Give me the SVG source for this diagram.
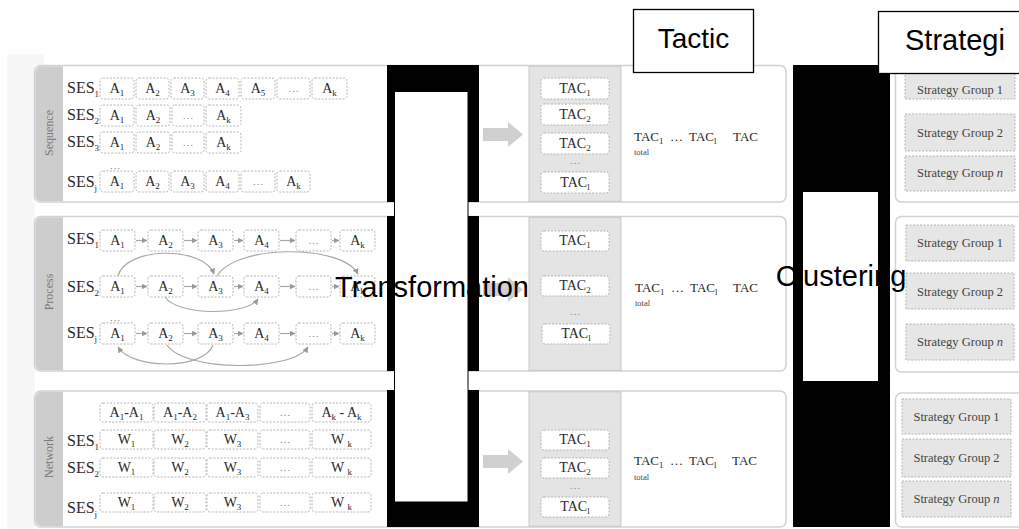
<svg xmlns="http://www.w3.org/2000/svg" width="1019" height="529" viewBox="0 0 1019 529">
  <style>
    .panel { fill: #fff; stroke: #d2d2d2; stroke-width: 1.5; }
    .strip { fill: #cdcdcd; }
    .cap { font-family: "Liberation Serif", serif; font-size: 12px; fill: #7a7a7a; text-anchor: middle; }
    .box { fill: #fff; stroke: #b4b4b4; stroke-width: 1; stroke-dasharray: 2 1.5; }
    .gbox { fill: #e6e6e6; stroke: #b4b4b4; stroke-width: 1; stroke-dasharray: 2 1.5; }
    .lbl { font-family: "Liberation Serif", serif; font-size: 14px; fill: #2a2a2a; text-anchor: middle; }
    .dots { font-family: "Liberation Serif", serif; font-size: 11px; fill: #888; text-anchor: middle; }
    .ses { font-family: "Liberation Serif", serif; font-size: 16px; fill: #2a2a2a; }
    .sb { font-size: 9px; }
    .tl { font-family: "Liberation Serif", serif; font-size: 13px; fill: #2a2a2a; }
    .tot { font-family: "Liberation Serif", serif; font-size: 8.5px; fill: #444; }
    .sg { font-family: "Liberation Serif", serif; font-size: 12.5px; fill: #444; text-anchor: middle; }
    .col { fill: #e4e4e4; stroke: #c8c8c8; stroke-width: 1; }
    .big { fill: #d0d0d0; }
    .flow { fill: none; stroke: #a8a8a8; stroke-width: 1.2; marker-end: url(#ah); }
    .redact { fill: #000; }
    .head { font-family: "Liberation Sans", Arial, sans-serif; fill: #000; }
    .hbox { fill: #fff; stroke: #000; stroke-width: 1.3; }
  </style>
  <defs>
    <marker id="ah" viewBox="0 0 6 6" refX="5.5" refY="3" markerWidth="6" markerHeight="6" orient="auto" markerUnits="userSpaceOnUse">
      <path d="M0,0 L6,3 L0,6 z" fill="#999"/>
    </marker>
  </defs>

  <!-- faint backdrop on the left margin -->
  <path d="M7,54 H44 V65 H35 V529 H7 Z" fill="#f7f7f7"/>

  <!-- row panels with rotated side captions -->
  <g id="panels">
    <rect class="panel" x="34.5" y="65.5" width="751.5" height="136.5" rx="6"/>
    <path class="strip" d="M63,66.3 V201.3 H41 A6,6 0 0 1 35.3,195.3 V72.3 A6,6 0 0 1 41,66.3 Z"/>
    <text class="cap" transform="translate(53,133) rotate(-90)">Sequence</text>

    <rect class="panel" x="34.5" y="216.5" width="751.5" height="154.5" rx="6"/>
    <path class="strip" d="M63,217.3 V370.3 H41 A6,6 0 0 1 35.3,364.3 V223.3 A6,6 0 0 1 41,217.3 Z"/>
    <text class="cap" transform="translate(53,292) rotate(-90)">Process</text>

    <rect class="panel" x="34.5" y="391" width="751.5" height="136" rx="6"/>
    <path class="strip" d="M63,391.8 V526.2 H41 A6,6 0 0 1 35.3,520.2 V397.8 A6,6 0 0 1 41,391.8 Z"/>
    <text class="cap" transform="translate(53,457) rotate(-90)">Network</text>

    <!-- tactic columns -->
    <rect class="col" x="529" y="66.3" width="92" height="135"/>
    <rect class="col" x="529" y="217.3" width="92" height="153"/>
    <rect class="col" x="529" y="391.8" width="92" height="134.5"/>

    <!-- strategy panels -->
    <rect class="panel" x="895.5" y="65.5" width="130" height="136.5" rx="6"/>
    <rect class="panel" x="895.5" y="216.5" width="130" height="155.5" rx="6"/>
    <rect class="panel" x="895.5" y="393" width="130" height="134" rx="6"/>
  </g>

  <!-- sequence rows -->
  <g id="sequence">
    <text class="ses" x="67" y="93">SES<tspan class="sb" dy="4">1</tspan></text>
    <rect class="box" x="100" y="78" width="34" height="21" rx="3"/><text class="lbl" x="117" y="93">A<tspan class="sb" dy="3">1</tspan></text>
    <rect class="box" x="136" y="78" width="33" height="21" rx="3"/><text class="lbl" x="152.5" y="93">A<tspan class="sb" dy="3">2</tspan></text>
    <rect class="box" x="171" y="78" width="33" height="21" rx="3"/><text class="lbl" x="187.5" y="93">A<tspan class="sb" dy="3">3</tspan></text>
    <rect class="box" x="206" y="78" width="33" height="21" rx="3"/><text class="lbl" x="222.5" y="93">A<tspan class="sb" dy="3">4</tspan></text>
    <rect class="box" x="241" y="78" width="34" height="21" rx="3"/><text class="lbl" x="258" y="93">A<tspan class="sb" dy="3">5</tspan></text>
    <rect class="box" x="277" y="78" width="33" height="21" rx="3"/><text class="dots" x="293.5" y="92">…</text>
    <rect class="box" x="312" y="78" width="35" height="21" rx="3"/><text class="lbl" x="329.5" y="93">A<tspan class="sb" dy="3">k</tspan></text>

    <text class="ses" x="67" y="120">SES<tspan class="sb" dy="4">2</tspan></text>
    <rect class="box" x="100" y="105" width="34" height="21" rx="3"/><text class="lbl" x="117" y="120">A<tspan class="sb" dy="3">1</tspan></text>
    <rect class="box" x="136" y="105" width="34" height="21" rx="3"/><text class="lbl" x="153" y="120">A<tspan class="sb" dy="3">2</tspan></text>
    <rect class="box" x="172" y="105" width="32" height="21" rx="3"/><text class="dots" x="188" y="119">…</text>
    <rect class="box" x="206" y="105" width="35" height="21" rx="3"/><text class="lbl" x="223.5" y="120">A<tspan class="sb" dy="3">k</tspan></text>

    <text class="ses" x="67" y="147">SES<tspan class="sb" dy="4">3</tspan></text>
    <rect class="box" x="100" y="132" width="34" height="21" rx="3"/><text class="lbl" x="117" y="147">A<tspan class="sb" dy="3">1</tspan></text>
    <rect class="box" x="136" y="132" width="34" height="21" rx="3"/><text class="lbl" x="153" y="147">A<tspan class="sb" dy="3">2</tspan></text>
    <rect class="box" x="172" y="132" width="32" height="21" rx="3"/><text class="dots" x="188" y="146">…</text>
    <rect class="box" x="206" y="132" width="35" height="21" rx="3"/><text class="lbl" x="223.5" y="147">A<tspan class="sb" dy="3">k</tspan></text>

    <text class="dots" x="115" y="169">…</text>

    <text class="ses" x="67" y="187">SES<tspan class="sb" dy="4">j</tspan></text>
    <rect class="box" x="100" y="171" width="34" height="21" rx="3"/><text class="lbl" x="117" y="186">A<tspan class="sb" dy="3">1</tspan></text>
    <rect class="box" x="136" y="171" width="33" height="21" rx="3"/><text class="lbl" x="152.5" y="186">A<tspan class="sb" dy="3">2</tspan></text>
    <rect class="box" x="171" y="171" width="33" height="21" rx="3"/><text class="lbl" x="187.5" y="186">A<tspan class="sb" dy="3">3</tspan></text>
    <rect class="box" x="206" y="171" width="33" height="21" rx="3"/><text class="lbl" x="222.5" y="186">A<tspan class="sb" dy="3">4</tspan></text>
    <rect class="box" x="241" y="171" width="34" height="21" rx="3"/><text class="dots" x="258" y="185">…</text>
    <rect class="box" x="277" y="171" width="33" height="21" rx="3"/><text class="lbl" x="293.5" y="186">A<tspan class="sb" dy="3">k</tspan></text>
  </g>

  <!-- process rows -->
  <g id="process">
    <text class="ses" x="67" y="244">SES<tspan class="sb" dy="4">1</tspan></text>
    <rect class="box" x="100" y="230" width="35" height="21" rx="3"/><text class="lbl" x="117.5" y="245">A<tspan class="sb" dy="3">1</tspan></text>
    <rect class="box" x="148" y="230" width="35" height="21" rx="3"/><text class="lbl" x="165.5" y="245">A<tspan class="sb" dy="3">2</tspan></text>
    <rect class="box" x="198" y="230" width="35" height="21" rx="3"/><text class="lbl" x="215.5" y="245">A<tspan class="sb" dy="3">3</tspan></text>
    <rect class="box" x="244" y="230" width="35" height="21" rx="3"/><text class="lbl" x="261.5" y="245">A<tspan class="sb" dy="3">4</tspan></text>
    <rect class="box" x="296" y="230" width="35" height="21" rx="3"/><text class="dots" x="313.5" y="244">…</text>
    <rect class="box" x="340" y="230" width="35" height="21" rx="3"/><text class="lbl" x="357.5" y="245">A<tspan class="sb" dy="3">k</tspan></text>

    <text class="ses" x="67" y="292">SES<tspan class="sb" dy="4">2</tspan></text>
    <rect class="box" x="100" y="276" width="35" height="21" rx="3"/><text class="lbl" x="117.5" y="291">A<tspan class="sb" dy="3">1</tspan></text>
    <rect class="box" x="148" y="276" width="35" height="21" rx="3"/><text class="lbl" x="165.5" y="291">A<tspan class="sb" dy="3">2</tspan></text>
    <rect class="box" x="198" y="276" width="35" height="21" rx="3"/><text class="lbl" x="215.5" y="291">A<tspan class="sb" dy="3">3</tspan></text>
    <rect class="box" x="244" y="276" width="35" height="21" rx="3"/><text class="lbl" x="261.5" y="291">A<tspan class="sb" dy="3">4</tspan></text>
    <rect class="box" x="296" y="276" width="35" height="21" rx="3"/><text class="dots" x="313.5" y="290">…</text>
    <rect class="box" x="340" y="276" width="35" height="21" rx="3"/><text class="lbl" x="357.5" y="291">A<tspan class="sb" dy="3">k</tspan></text>

    <text class="dots" x="115" y="321">…</text>

    <text class="ses" x="67" y="338">SES<tspan class="sb" dy="4">j</tspan></text>
    <rect class="box" x="100" y="323" width="35" height="21" rx="3"/><text class="lbl" x="117.5" y="338">A<tspan class="sb" dy="3">1</tspan></text>
    <rect class="box" x="148" y="323" width="35" height="21" rx="3"/><text class="lbl" x="165.5" y="338">A<tspan class="sb" dy="3">2</tspan></text>
    <rect class="box" x="198" y="323" width="35" height="21" rx="3"/><text class="lbl" x="215.5" y="338">A<tspan class="sb" dy="3">3</tspan></text>
    <rect class="box" x="244" y="323" width="35" height="21" rx="3"/><text class="lbl" x="261.5" y="338">A<tspan class="sb" dy="3">4</tspan></text>
    <rect class="box" x="296" y="323" width="35" height="21" rx="3"/><text class="dots" x="313.5" y="337">…</text>
    <rect class="box" x="340" y="323" width="35" height="21" rx="3"/><text class="lbl" x="357.5" y="338">A<tspan class="sb" dy="3">k</tspan></text>
  </g>

  <!-- network rows -->
  <g id="network">
    <rect class="box" x="100" y="403" width="53" height="19" rx="3"/><text class="lbl" x="126.5" y="417">A<tspan class="sb" dy="3">1</tspan><tspan dy="-3">-A</tspan><tspan class="sb" dy="3">1</tspan></text>
    <rect class="box" x="154" y="403" width="52" height="19" rx="3"/><text class="lbl" x="180" y="417">A<tspan class="sb" dy="3">1</tspan><tspan dy="-3">-A</tspan><tspan class="sb" dy="3">2</tspan></text>
    <rect class="box" x="207" y="403" width="51" height="19" rx="3"/><text class="lbl" x="232.5" y="417">A<tspan class="sb" dy="3">1</tspan><tspan dy="-3">-A</tspan><tspan class="sb" dy="3">3</tspan></text>
    <rect class="box" x="260" y="403" width="50" height="19" rx="3"/><text class="dots" x="285" y="416">…</text>
    <rect class="box" x="312" y="403" width="59" height="19" rx="3"/><text class="lbl" x="341.5" y="417">A<tspan class="sb" dy="3">k</tspan><tspan dy="-3"> - A</tspan><tspan class="sb" dy="3">k</tspan></text>

    <text class="ses" x="67" y="446">SES<tspan class="sb" dy="4">1</tspan></text>
    <rect class="box" x="100" y="430" width="53" height="19" rx="3"/><text class="lbl" x="126.5" y="444">W<tspan class="sb" dy="3">1</tspan></text>
    <rect class="box" x="154" y="430" width="52" height="19" rx="3"/><text class="lbl" x="180" y="444">W<tspan class="sb" dy="3">2</tspan></text>
    <rect class="box" x="207" y="430" width="51" height="19" rx="3"/><text class="lbl" x="232.5" y="444">W<tspan class="sb" dy="3">3</tspan></text>
    <rect class="box" x="260" y="430" width="50" height="19" rx="3"/><text class="dots" x="285" y="443">…</text>
    <rect class="box" x="312" y="430" width="59" height="19" rx="3"/><text class="lbl" x="341.5" y="444">W <tspan class="sb" dy="3">k</tspan></text>

    <text class="ses" x="67" y="473">SES<tspan class="sb" dy="4">2</tspan></text>
    <rect class="box" x="100" y="458" width="53" height="19" rx="3"/><text class="lbl" x="126.5" y="472">W<tspan class="sb" dy="3">1</tspan></text>
    <rect class="box" x="154" y="458" width="52" height="19" rx="3"/><text class="lbl" x="180" y="472">W<tspan class="sb" dy="3">2</tspan></text>
    <rect class="box" x="207" y="458" width="51" height="19" rx="3"/><text class="lbl" x="232.5" y="472">W<tspan class="sb" dy="3">3</tspan></text>
    <rect class="box" x="260" y="458" width="50" height="19" rx="3"/><text class="dots" x="285" y="471">…</text>
    <rect class="box" x="312" y="458" width="59" height="19" rx="3"/><text class="lbl" x="341.5" y="472">W <tspan class="sb" dy="3">k</tspan></text>

    <text class="ses" x="67" y="513">SES<tspan class="sb" dy="4">j</tspan></text>
    <rect class="box" x="100" y="493" width="53" height="19" rx="3"/><text class="lbl" x="126.5" y="507">W<tspan class="sb" dy="3">1</tspan></text>
    <rect class="box" x="154" y="493" width="52" height="19" rx="3"/><text class="lbl" x="180" y="507">W<tspan class="sb" dy="3">2</tspan></text>
    <rect class="box" x="207" y="493" width="51" height="19" rx="3"/><text class="lbl" x="232.5" y="507">W<tspan class="sb" dy="3">3</tspan></text>
    <rect class="box" x="260" y="493" width="50" height="19" rx="3"/><text class="dots" x="285" y="506">…</text>
    <rect class="box" x="312" y="493" width="59" height="19" rx="3"/><text class="lbl" x="341.5" y="507">W <tspan class="sb" dy="3">k</tspan></text>
  </g>

  <!-- tactic columns: per-session tactics and totals -->
  <g id="tactics">
    <rect class="box" x="541" y="78" width="68" height="21" rx="3"/><text class="lbl" x="575" y="93">TAC<tspan class="sb" dy="3">1</tspan></text>
    <rect class="box" x="541" y="104" width="68" height="21" rx="3"/><text class="lbl" x="575" y="119">TAC<tspan class="sb" dy="3">2</tspan></text>
    <rect class="box" x="541" y="133" width="68" height="21" rx="3"/><text class="lbl" x="575" y="148">TAC<tspan class="sb" dy="3">2</tspan></text>
    <text class="dots" x="575" y="164">…</text>
    <rect class="box" x="541" y="172" width="68" height="21" rx="3"/><text class="lbl" x="575" y="187">TAC<tspan class="sb" dy="3">l</tspan></text>
    <text class="tl" x="634" y="141">TAC<tspan class="sb" dy="3">1</tspan></text>
    <text class="tl" x="670" y="141">…</text>
    <text class="tl" x="689" y="141">TAC<tspan class="sb" dy="3">l</tspan></text>
    <text class="tl" x="733" y="141">TAC</text>
    <text class="tot" x="634" y="155">total</text>

    <rect class="box" x="541" y="231" width="68" height="20" rx="3"/><text class="lbl" x="575" y="245">TAC<tspan class="sb" dy="3">1</tspan></text>
    <rect class="box" x="541" y="276" width="68" height="20" rx="3"/><text class="lbl" x="575" y="290">TAC<tspan class="sb" dy="3">2</tspan></text>
    <text class="dots" x="575" y="315">…</text>
    <rect class="box" x="542" y="324" width="68" height="20" rx="3"/><text class="lbl" x="576" y="338">TAC<tspan class="sb" dy="3">l</tspan></text>
    <text class="tl" x="635" y="292">TAC<tspan class="sb" dy="3">1</tspan></text>
    <text class="tl" x="671" y="292">…</text>
    <text class="tl" x="690" y="292">TAC<tspan class="sb" dy="3">l</tspan></text>
    <text class="tl" x="733" y="292">TAC</text>
    <text class="tot" x="635" y="306">total</text>

    <rect class="box" x="541" y="430" width="68" height="20" rx="3"/><text class="lbl" x="575" y="444">TAC<tspan class="sb" dy="3">1</tspan></text>
    <rect class="box" x="541" y="458" width="68" height="20" rx="3"/><text class="lbl" x="575" y="472">TAC<tspan class="sb" dy="3">2</tspan></text>
    <text class="dots" x="575" y="489">…</text>
    <rect class="box" x="541" y="497" width="68" height="20" rx="3"/><text class="lbl" x="575" y="511">TAC<tspan class="sb" dy="3">l</tspan></text>
    <text class="tl" x="634" y="465">TAC<tspan class="sb" dy="3">1</tspan></text>
    <text class="tl" x="670" y="465">…</text>
    <text class="tl" x="689" y="465">TAC<tspan class="sb" dy="3">l</tspan></text>
    <text class="tl" x="732" y="465">TAC</text>
    <text class="tot" x="634" y="480">total</text>
  </g>

  <!-- strategy groups -->
  <g id="strategies">
    <rect class="gbox" x="905" y="68" width="110" height="31"/><text class="sg" x="960" y="94">Strategy Group 1</text>
    <rect class="gbox" x="905" y="114" width="110" height="37"/><text class="sg" x="960" y="137">Strategy Group 2</text>
    <rect class="gbox" x="905" y="156" width="110" height="35"/><text class="sg" x="960" y="177">Strategy Group <tspan font-style="italic">n</tspan></text>

    <rect class="gbox" x="906" y="225" width="108" height="36"/><text class="sg" x="960" y="247">Strategy Group 1</text>
    <rect class="gbox" x="906" y="273" width="108" height="36"/><text class="sg" x="960" y="296">Strategy Group 2</text>
    <rect class="gbox" x="906" y="324" width="108" height="36"/><text class="sg" x="960" y="346">Strategy Group <tspan font-style="italic">n</tspan></text>

    <rect class="gbox" x="902" y="399" width="109" height="35"/><text class="sg" x="956.5" y="421">Strategy Group 1</text>
    <rect class="gbox" x="902" y="439" width="109" height="38"/><text class="sg" x="956.5" y="462">Strategy Group 2</text>
    <rect class="gbox" x="902" y="481" width="109" height="36"/><text class="sg" x="956.5" y="503">Strategy Group <tspan font-style="italic">n</tspan></text>
  </g>

  <!-- connectors: activity arrows, transition curves, stage arrows -->
  <g id="connectors">
    <path class="flow" d="M136,240.5 H147"/>
    <path class="flow" d="M184,240.5 H197"/>
    <path class="flow" d="M234,240.5 H243"/>
    <path class="flow" d="M280,240.5 H295"/>
    <path class="flow" d="M332,240.5 H339"/>

    <path class="flow" d="M136,286.5 H147"/>
    <path class="flow" d="M184,286.5 H197"/>
    <path class="flow" d="M234,286.5 H243"/>
    <path class="flow" d="M280,286.5 H295"/>
    <path class="flow" d="M332,286.5 H339"/>

    <path class="flow" d="M136,333.5 H147"/>
    <path class="flow" d="M184,333.5 H197"/>
    <path class="flow" d="M234,333.5 H243"/>
    <path class="flow" d="M280,333.5 H295"/>
    <path class="flow" d="M332,333.5 H339"/>

    <path class="flow" d="M118,276 C126,246 204,246 214,274"/>
    <path class="flow" d="M217,276 C236,244 342,244 358,274"/>
    <path class="flow" d="M165,297 C178,316 246,316 258,299"/>
    <path class="flow" d="M213,345 C204,370 132,370 118,347"/>
    <path class="flow" d="M167,345 C185,372 292,372 308,347"/>

    <path class="big" d="M483,128 H508 V122 L523,134.5 L508,147 V141 H483 Z"/>
    <path class="big" d="M483,283 H508 V277 L523,289.5 L508,302 V296 H483 Z"/>
    <path class="big" d="M483,455 H508 V449 L523,461.5 L508,474 V468 H483 Z"/>
  </g>

  <!-- stage columns -->
  <g id="transformation">
    <rect class="redact" x="387" y="65" width="92" height="137"/>
    <rect class="redact" x="387" y="216" width="92" height="155"/>
    <rect class="redact" x="387" y="390" width="92" height="137"/>
    <rect fill="#fff" stroke="#000" stroke-width="1" x="394.5" y="91.5" width="73.5" height="410.5"/>
    <text class="head" x="432" y="297" font-size="29" text-anchor="middle">Transformation</text>
  </g>

  <g id="clustering">
    <rect class="redact" x="793" y="65" width="97" height="462"/>
    <rect fill="#fff" x="803" y="192" width="75" height="189"/>
    <text class="head" x="841" y="286" font-size="29" text-anchor="middle">Clustering</text>
  </g>

  <!-- column headings -->
  <g id="tactic-heading">
    <rect class="hbox" x="633.5" y="9.5" width="120" height="63"/>
    <text class="head" x="693.5" y="48" font-size="28" text-anchor="middle">Tactic</text>
  </g>
  <g id="strategy-heading">
    <rect class="hbox" x="878.5" y="11.5" width="150" height="62"/>
    <text class="head" x="905" y="50" font-size="29">Strategi</text>
  </g>
</svg>
